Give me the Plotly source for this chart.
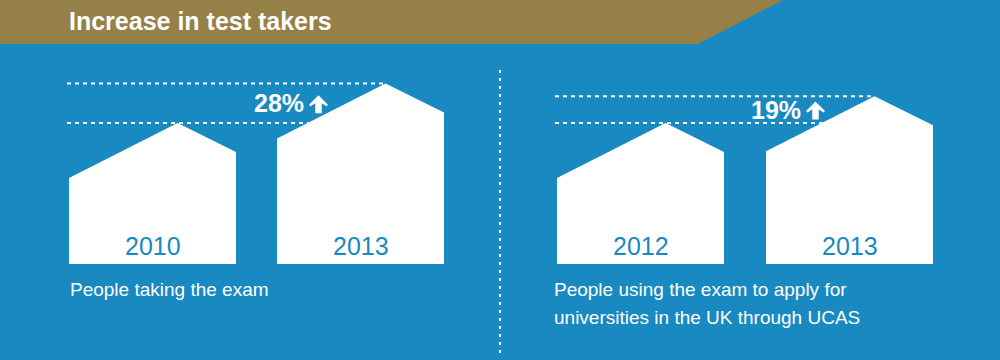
import plotly.graph_objects as go

# ---- data ----
title_text = "Increase in test takers"
left_years = ["2010", "2013"]
left_values = [100, 128]          # relative number of test takers (2010 = 100)
left_change = "28%"
left_caption = ["People taking the exam"]

right_years = ["2012", "2013"]
right_values = [100, 119]         # relative number of UCAS applicants (2012 = 100)
right_change = "19%"
right_caption = ["People using the exam to apply for", "universities in the UK through UCAS"]

# ---- style / layout constants ----
W, H = 1000, 360
BLUE = "#1989c1"
GOLD = "#958048"
WHITE = "#ffffff"
FONT = "Liberation Sans, Arial, sans-serif"

BASE_PX = 264.0       # pixel row of value 0 (house bottoms)
PX_PER_UNIT = 1.41    # pixels per value unit
def px2val(p):
    return (BASE_PX - p) / PX_PER_UNIT

Y_RANGE = [px2val(H), px2val(0)]

HOUSE_W = 167
ROOF_PEAK_FRAC = 0.65
ROOF_LEFT_DROP = 39.0     # value units below peak
ROOF_RIGHT_DROP = 20.6

panels = [
    dict(years=left_years, values=left_values, change=left_change, caption=left_caption,
         lefts=[69, 277], dash_x0=67, label_cx=279, caption_x=68),
    dict(years=right_years, values=right_values, change=right_change, caption=right_caption,
         lefts=[557, 766], dash_x0=555, label_cx=776, caption_x=552),
]

fig = go.Figure()
annotations = []
shapes = []

# header band
shapes.append(dict(type="path", xref="paper", yref="paper",
                   path=f"M 0,1 L {783/W},1 L {698/W},{1-44/H} L 0,{1-44/H} Z",
                   fillcolor=GOLD, line=dict(width=0), layer="below"))
annotations.append(dict(text=f"<b>{title_text}</b>", x=67/W, y=1-21/H, xref="paper", yref="paper",
                        xanchor="left", yanchor="middle", showarrow=False,
                        font=dict(family=FONT, size=25, color=WHITE)))

# vertical divider
shapes.append(dict(type="line", xref="x", yref="paper", x0=500, x1=500,
                   y0=1-70/H, y1=1-356/H,
                   line=dict(color=WHITE, width=2, dash="3px,5px")))

for p in panels:
    vals = p["values"]
    lefts = p["lefts"]
    peak_x = [l + ROOF_PEAK_FRAC * HOUSE_W for l in lefts]
    # dashed reference lines (drawn first so houses cover them)
    for v in (vals[0], vals[1]):
        fig.add_trace(go.Scatter(x=[p["dash_x0"], peak_x[1]], y=[v, v], mode="lines",
                                 line=dict(color=WHITE, width=2, dash="4px,4px"),
                                 hoverinfo="skip", showlegend=False))
    # houses
    for yr, v, l, px in zip(p["years"], vals, lefts, peak_x):
        xs = [l, l, px, l + HOUSE_W, l + HOUSE_W, l]
        ys = [0, v - ROOF_LEFT_DROP, v, v - ROOF_RIGHT_DROP, 0, 0]
        fig.add_trace(go.Scatter(x=xs, y=ys, mode="lines", fill="toself",
                                 fillcolor=WHITE, line=dict(width=0, color=WHITE),
                                 hoverinfo="skip", showlegend=False))
        annotations.append(dict(text=yr, x=l + HOUSE_W / 2, y=px2val(246), xref="x", yref="y",
                                xanchor="center", yanchor="middle", showarrow=False,
                                font=dict(family=FONT, size=25, color=BLUE)))
    # change label
    mid = (vals[0] + vals[1]) / 2
    annotations.append(dict(text=f"<b>{p['change']}</b>", x=p["label_cx"], y=mid, xref="x", yref="y",
                            xanchor="center", yanchor="middle", showarrow=False,
                            font=dict(family=FONT, size=25, color=WHITE)))
    # bold up arrow next to the label
    ax0 = p["label_cx"] + 30
    aw = 19
    c = ax0 + aw / 2
    cy_px = BASE_PX - mid * PX_PER_UNIT + 1
    top_px, bot_px = cy_px - 9, cy_px + 9
    neck_px = top_px + 9.5
    sw = 6.5
    pts = [(c, top_px), (ax0 + aw, neck_px), (ax0 + aw - 1.5, neck_px + 1.5),
           (c + sw / 2, neck_px - 1.5), (c + sw / 2, bot_px), (c - sw / 2, bot_px),
           (c - sw / 2, neck_px - 1.5), (ax0 + 1.5, neck_px + 1.5), (ax0, neck_px)]
    path = "M " + " L ".join(f"{x},{px2val(y)}" for x, y in pts) + " Z"
    shapes.append(dict(type="path", xref="x", yref="y", path=path,
                       fillcolor=WHITE, line=dict(width=0)))
    # caption
    for i, line in enumerate(p["caption"]):
        annotations.append(dict(text=line, x=p["caption_x"], y=px2val(289 + 28 * i), xref="x", yref="y",
                                xanchor="left", yanchor="middle", showarrow=False,
                                font=dict(family=FONT, size=19, color=WHITE)))

fig.update_layout(
    width=W, height=H, autosize=False,
    margin=dict(l=0, r=0, t=0, b=0, pad=0),
    paper_bgcolor=BLUE, plot_bgcolor=BLUE,
    xaxis=dict(range=[0, W], visible=False, fixedrange=True),
    yaxis=dict(range=Y_RANGE, visible=False, fixedrange=True),
    shapes=shapes, annotations=annotations, showlegend=False,
)

fig.write_html("out.html", config={"displayModeBar": False})
